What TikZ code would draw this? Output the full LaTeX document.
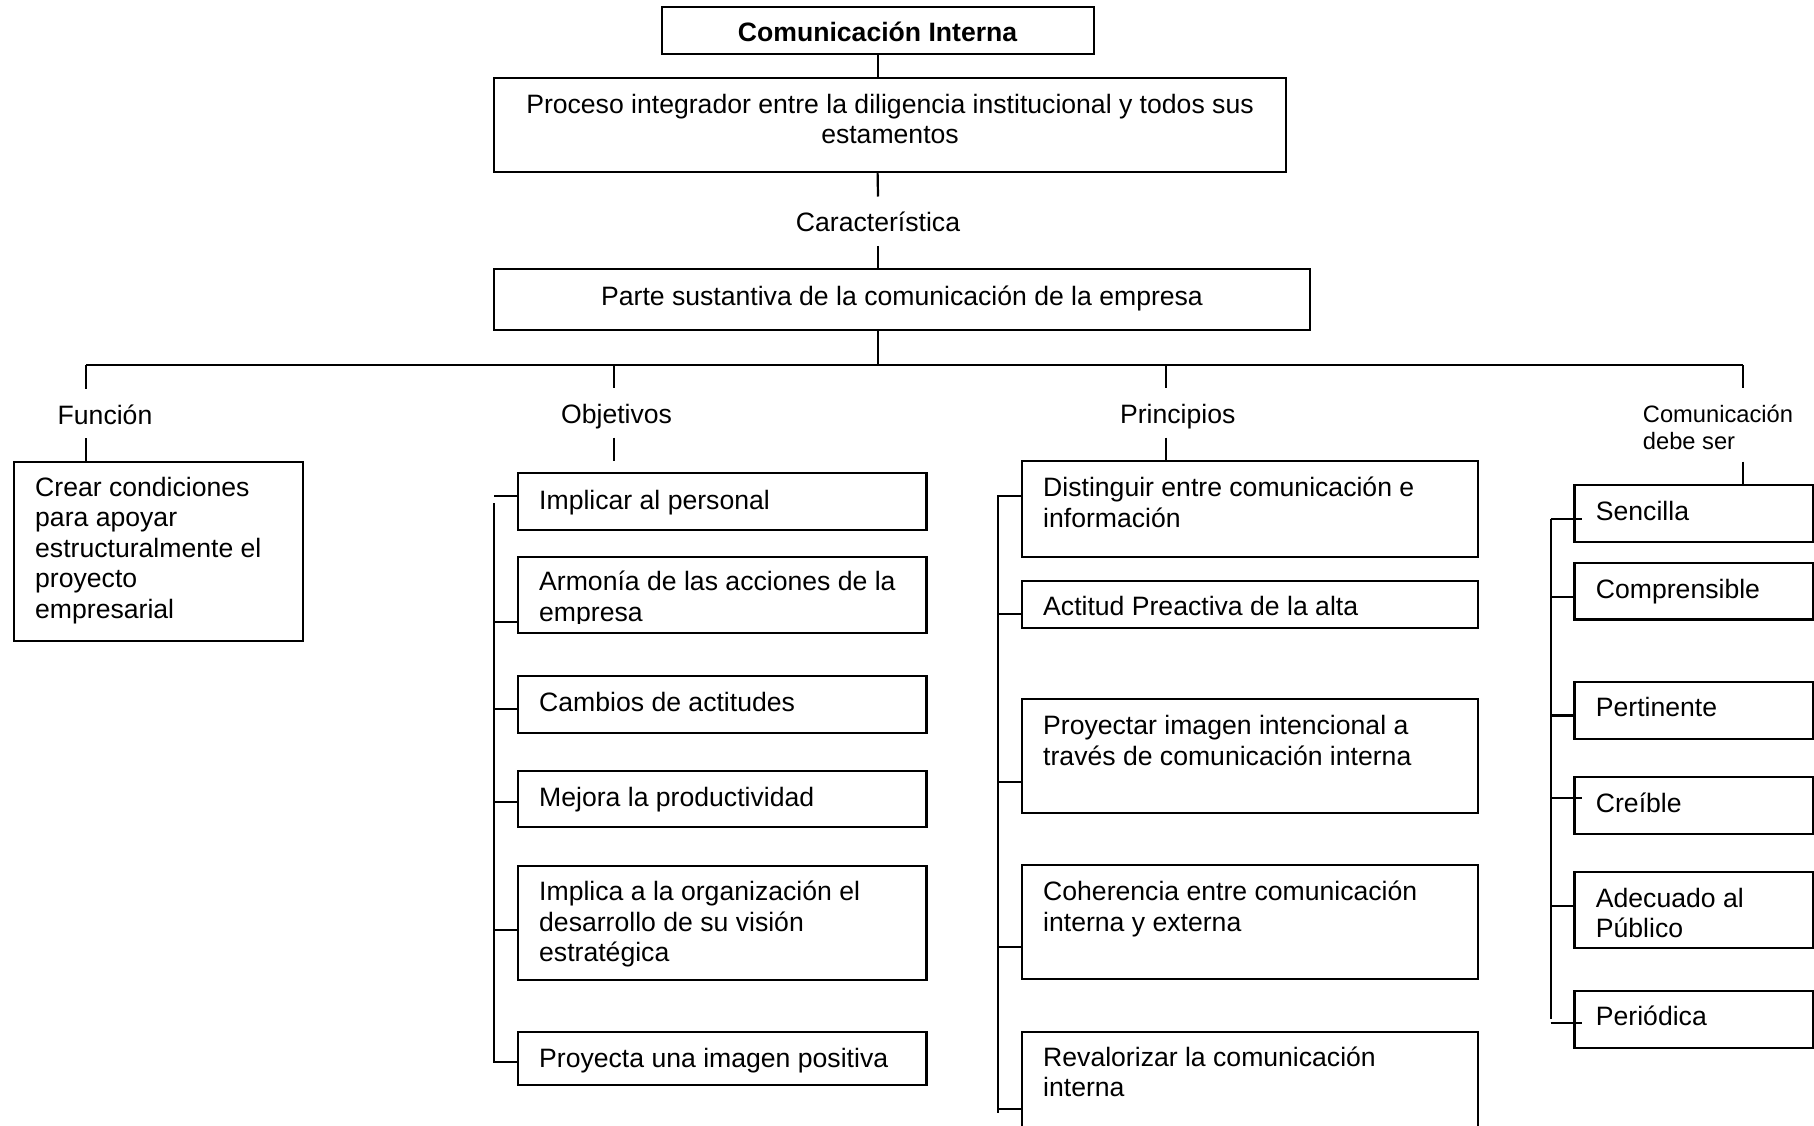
\documentclass[tikz,border=0pt]{standalone}
\usepackage{fontspec}
\setmainfont{Liberation Sans}
\newcommand{\diagfont}{\fontsize{26.6}{30.5}\selectfont}
\newcommand{\diagsmall}{\fontsize{23.7}{26.5}\selectfont}
\newcommand{\boxlines}[2][440pt]{\parbox[t]{#1}{\raggedright #2}}
\tikzset{
  wire/.style={line width=2.2pt},
  box/.style={draw, line width=2.2pt, inner sep=0pt, outer sep=0pt, anchor=north west},
  txt/.style={anchor=base west, inner sep=0pt, font=\diagfont},
  lbl/.style={anchor=base, inner xsep=0pt, inner ysep=8pt, text height=27pt, text depth=6pt, font=\diagfont},
}
\begin{document}
\begin{tikzpicture}[x=1pt,y=-1pt]
\useasboundingbox[fill=white] (0,0) rectangle (1814,1125);

% ---------- upper spine ----------
\node[box, minimum width=432pt, minimum height=47.3pt] (title) at (661.6,6.7) {};
\node[anchor=base, inner sep=0pt, font=\diagfont\bfseries] (titlet) at (877.6,41.5) {Comunicación Interna};

\node[box, minimum width=792.4pt, minimum height=94.6pt] (proc) at (493.6,77.7) {};
\node[anchor=base, inner sep=0pt, font=\diagfont] (proct) at (890,113)
  {\parbox[t]{780pt}{\centering Proceso integrador entre la diligencia institucional y todos sus\\ estamentos}};

\node[lbl] (carac) at (878,231.7) {Característica};

\node[box, minimum width=816.4pt, minimum height=60.7pt] (parte) at (493.6,269.3) {};
\node[anchor=base, inner sep=0pt, font=\diagfont] (partet) at (902,305) {Parte sustantiva de la comunicación de la empresa};

\draw[wire] (title.south) -- (title.south |- proc.north);
\draw[wire] (title.south |- proc.south) -- (carac.north);
\draw[wire] (carac.south) -- (carac.south |- parte.north);

% ---------- branch bus ----------
\coordinate (dF) at (86,365);
\coordinate (dO) at (614,365);
\coordinate (dP) at (1166.3,365);
\coordinate (dC) at (1742.7,365);
\draw[wire] (carac.south |- parte.south) -- (carac.south |- dF);
\draw[wire] (dF) -- (dC);

% ---------- branch labels ----------
\node[lbl] (fun) at (105,424) {Función};
\node[lbl] (obj) at (616.6,423.5) {Objetivos};
\node[lbl] (prin) at (1177.7,423.5) {Principios};
\node[anchor=base west, inner xsep=0pt, inner ysep=8pt, text height=26pt, text depth=31pt, font=\diagsmall]
  (com) at (1642.7,422.5) {\boxlines[200pt]{Comunicación\\debe ser}};

% ---------- Función ----------
\node[box, minimum width=288.7pt, minimum height=179pt] (f1) at (14,461.7) {};
\node[txt] (f1t) at (35,496) {\boxlines[270pt]{Crear condiciones\\para apoyar\\estructuralmente el\\proyecto\\empresarial}};
\draw[wire] (dF) -- (dF |- fun.north);
\draw[wire] (dF |- fun.south) -- (dF |- f1.north);

% ---------- Objetivos ----------
\node[box, minimum width=408.5pt, minimum height=57pt]    (o1) at (518,473) {};
\node[box, minimum width=408.5pt, minimum height=76pt]    (o2) at (518,557) {};
\node[box, minimum width=408.5pt, minimum height=56.4pt]  (o3) at (518,676.3) {};
\node[box, minimum width=408.5pt, minimum height=56.2pt]  (o4) at (518,771) {};
\node[box, minimum width=408.5pt, minimum height=114.2pt] (o5) at (518,865.8) {};
\node[box, minimum width=408.5pt, minimum height=53.3pt]  (o6) at (518,1032) {};

\node[txt] (o1t) at (539,509.3) {Implicar al personal};
\begin{scope}
  \clip (518,557) rectangle (926.5,623.5);
  \node[txt] (o2t) at (539,590.7) {\boxlines[390pt]{Armonía de las acciones de la\\empresa}};
\end{scope}
\node[txt] (o3t) at (539,711.8) {Cambios de actitudes};
\node[txt] (o4t) at (539,806.4) {Mejora la productividad};
\node[txt] (o5t) at (539,900.5) {\boxlines[390pt]{Implica a la organización el\\desarrollo de su visión\\estratégica}};
\node[txt] (o6t) at (539,1067.5) {Proyecta una imagen positiva};

\coordinate (oEnd) at (614,461);
\draw[wire] (dO) -- (dO |- obj.north);
\draw[wire] (dO |- obj.south) -- (oEnd);

\coordinate (ob1) at (494,496);
\coordinate (obTop) at (494,503);
\coordinate (ob2) at (494,622);
\coordinate (ob3) at (494,709);
\coordinate (ob4) at (494,802);
\coordinate (ob5) at (494,930);
\coordinate (ob6) at (494,1062.3);
\draw[wire] (ob1) -- (ob1 -| o1.west);
\draw[wire] (obTop) -- (ob6) -- (ob6 -| o6.west);
\foreach \k in {2,3,4,5} \draw[wire] (ob\k) -- (ob\k -| o\k.west);

% ---------- Principios ----------
\node[box, minimum width=456.3pt, minimum height=96pt]    (p1) at (1022,461) {};
\node[box, minimum width=456.3pt, minimum height=47.3pt]  (p2) at (1022,580.7) {};
\node[box, minimum width=456.3pt, minimum height=113.6pt] (p3) at (1022,699) {};
\node[box, minimum width=456.3pt, minimum height=113.7pt] (p4) at (1022,865) {};
\node[box, minimum width=456.3pt, minimum height=130pt]   (p5) at (1022,1031.7) {};

\node[txt] (p1t) at (1043,496.8) {\boxlines[430pt]{Distinguir entre comunicación e\\información}};
\node[txt] (p2t) at (1043,615.6) {Actitud Preactiva de la alta};
\node[txt] (p3t) at (1043,734.9) {\boxlines[430pt]{Proyectar imagen intencional a\\través de comunicación interna}};
\node[txt] (p4t) at (1043,900.9) {\boxlines[430pt]{Coherencia entre comunicación\\interna y externa}};
\node[txt] (p5t) at (1043,1066) {\boxlines[430pt]{Revalorizar la comunicación\\interna}};

\draw[wire] (dP) -- (dP |- prin.north);
\draw[wire] (dP |- prin.south) -- (dP |- p1.north);

\coordinate (pb1) at (998,496);
\coordinate (pb2) at (998,613.9);
\coordinate (pb3) at (998,781.6);
\coordinate (pb4) at (998,946.8);
\coordinate (pb5) at (998,1109.3);
\coordinate (pbEnd) at (998,1113);
\draw[wire] (pb1 -| p1.west) -- (pb1) -- (pbEnd);
\foreach \k in {2,3,4,5} \draw[wire] (pb\k) -- (pb\k -| p\k.west);

% ---------- Comunicación debe ser ----------
\node[box, minimum width=238.8pt, minimum height=56.7pt] (c1) at (1574.5,485.3) {};
\node[box, minimum width=238.8pt, minimum height=56.7pt] (c2) at (1574.5,562.8) {};
\node[box, minimum width=238.8pt, minimum height=57pt]   (c3) at (1574.5,681.7) {};
\node[box, minimum width=238.8pt, minimum height=57pt]   (c4) at (1574.5,776.7) {};
\node[box, minimum width=238.8pt, minimum height=76pt]   (c5) at (1574.5,871.7) {};
\node[box, minimum width=238.8pt, minimum height=57pt]   (c6) at (1574.5,990.7) {};

\node[txt] (c1t) at (1595.7,520) {Sencilla};
\node[txt] (c2t) at (1595.7,598.3) {Comprensible};
\node[txt] (c3t) at (1595.7,716.5) {Pertinente};
\node[txt] (c4t) at (1595.7,812.3) {Creíble};
\node[txt] (c5t) at (1595.7,907.3) {\boxlines[210pt]{Adecuado al\\Público}};
\node[txt] (c6t) at (1595.7,1025) {Periódica};

\draw[wire] (dC) -- (dC |- com.north);
\draw[wire] (dC |- com.south) -- (dC |- c1.north);

\coordinate (cb1) at (1550.7,518.7);
\coordinate (cb2) at (1550.7,597);
\coordinate (cb3) at (1550.7,715.4);
\coordinate (cb4) at (1550.7,798);
\coordinate (cb5) at (1550.7,906);
\coordinate (cb6) at (1550.7,1023.3);
\coordinate (cbEnd) at (1550.7,1018.5);
\coordinate (ct1) at (1582,518.7);
\coordinate (ct4) at (1582,798);
\coordinate (ct6) at (1582,1023.3);
\draw[wire] (cb1) -- (cbEnd);
\draw[wire] (cb1) -- (ct1);
\draw[wire] (cb4) -- (ct4);
\draw[wire] (cb6) -- (ct6);
\foreach \k in {2,3,5} \draw[wire] (cb\k) -- (cb\k -| c\k.west);
\end{tikzpicture}
\end{document}
